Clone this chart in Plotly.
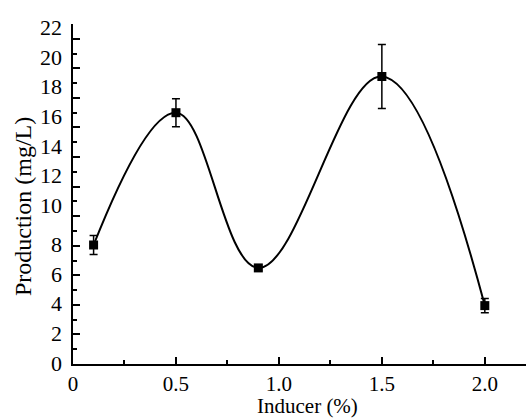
import plotly.graph_objects as go

inducer = [0.1, 0.5, 0.9, 1.5, 2.0]
production = [8.05, 17.0, 6.5, 19.45, 3.95]
err = [0.65, 0.95, 0.2, 2.17, 0.48]

x_ticks = [0, 0.5, 1.0, 1.5, 2.0]
x_ticklabels = ["0", "0.5", "1.0", "1.5", "2.0"]
y_ticks = list(range(0, 23, 2))
y_ticklabels = [str(v) for v in y_ticks]

font_family = "Liberation Serif, Times New Roman, serif"

fig = go.Figure()
fig.add_trace(go.Scatter(
    x=inducer, y=production, mode="lines",
    line=dict(shape="spline", smoothing=1.1, color="black", width=2),
    showlegend=False, hoverinfo="skip"))
fig.add_trace(go.Scatter(
    x=inducer, y=production, mode="markers",
    marker=dict(symbol="square", size=9, color="black"),
    error_y=dict(type="data", array=err, visible=True, color="black",
                 thickness=1.5, width=4),
    showlegend=False))

# y tick labels as annotations (two-digit labels sit slightly higher in the original)
annotations = []
for v, t in zip(y_ticks, y_ticklabels):
    annotations.append(dict(
        x=0, xref="paper", y=v, yref="y", text=t, showarrow=False,
        xanchor="right", yanchor="middle", xshift=-9,
        yshift=11 if len(t) > 1 else 1,
        font=dict(family=font_family, size=22, color="black")))
annotations.append(dict(
    x=-0.110, xref="paper", y=0.462, yref="paper", text="Production (mg/L)",
    showarrow=False, textangle=-90, xanchor="center", yanchor="middle",
    font=dict(family=font_family, size=24, color="black")))
# x-axis title as annotation, just below the tick labels
annotations.append(dict(
    x=0.517, xref="paper", y=-0.124, yref="paper", text="Inducer (%)",
    showarrow=False, xanchor="center", yanchor="middle",
    font=dict(family=font_family, size=21, color="black")))

fig.update_layout(
    width=526, height=419,
    margin=dict(l=73, r=0, t=24, b=55),
    plot_bgcolor="white", paper_bgcolor="white",
    font=dict(family=font_family, color="black", size=22),
    annotations=annotations,
    xaxis=dict(
        range=[0, 2.2], tickvals=x_ticks, ticktext=x_ticklabels,
        ticks="inside", ticklen=7, tickwidth=2, tickcolor="black",
        minor=dict(dtick=0.25, ticks="inside", ticklen=4, tickwidth=2, tickcolor="black"),
        showline=True, linewidth=2, linecolor="black", mirror=False,
        showgrid=False, zeroline=False,
        tickfont=dict(size=21),
    ),
    yaxis=dict(
        range=[0, 23], tickvals=y_ticks, showticklabels=False,
        ticks="inside", ticklen=7, tickwidth=2, tickcolor="black",
        minor=dict(dtick=1, ticks="inside", ticklen=4, tickwidth=2, tickcolor="black"),
        showline=True, linewidth=2, linecolor="black", mirror=False,
        showgrid=False, zeroline=False,
    ),
)

fig.write_html("out.html")
